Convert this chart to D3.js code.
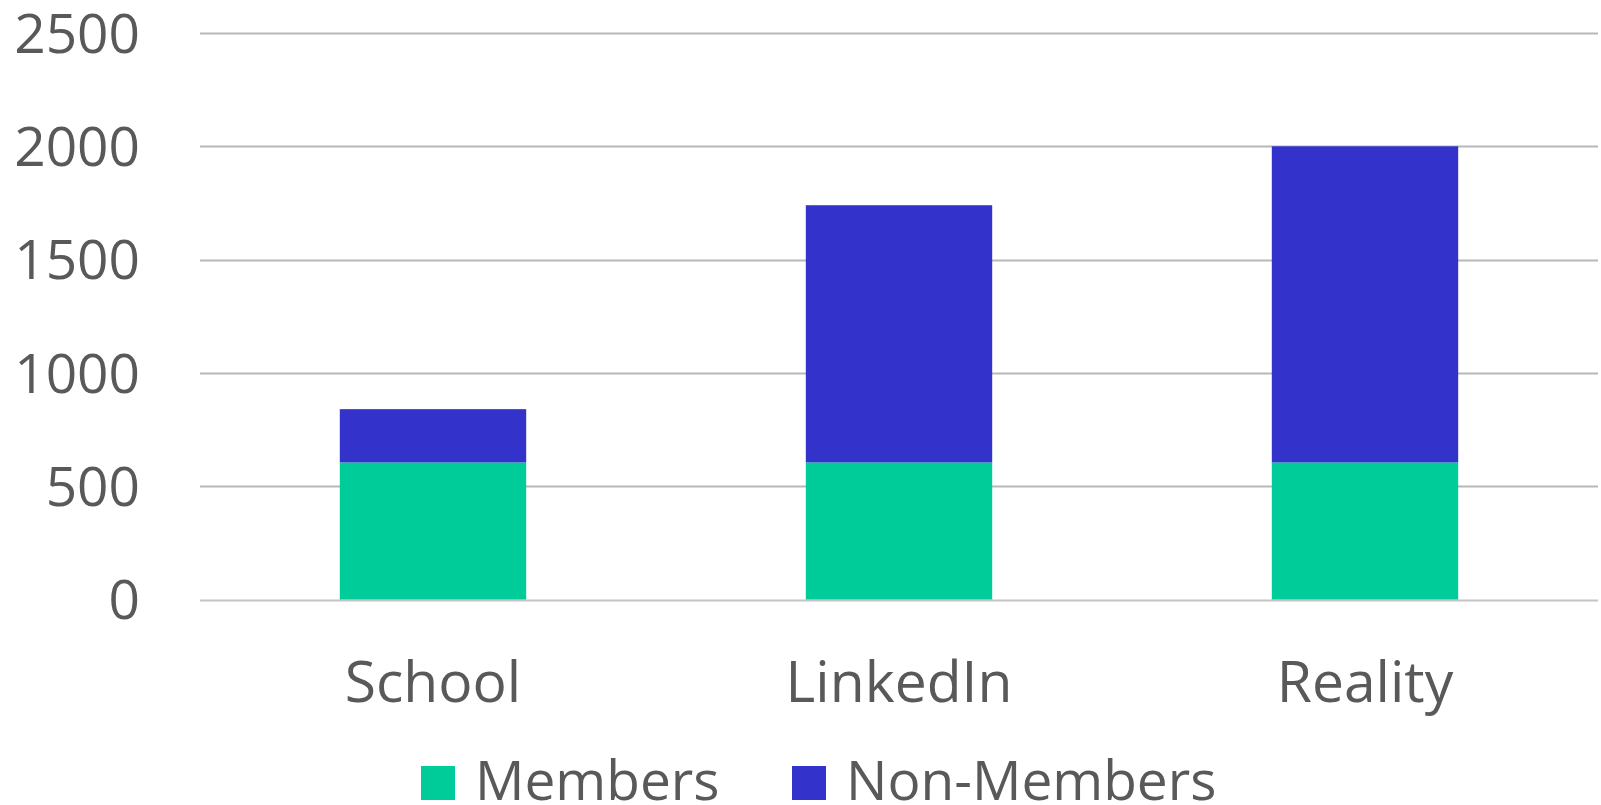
<!DOCTYPE html>
<html>
<head>
<meta charset="utf-8">
<script src="https://cdn.jsdelivr.net/npm/d3@7/dist/d3.min.js"></script>
<style>
    body { margin: 0; background: #fff; }
    svg text { font-family: "Open Sans", "Liberation Sans", sans-serif; fill: #595959; }
</style>
</head>
<body>
<div id="chart"></div>
<script>
(function(){
    'use strict';

    var categories = ['School', 'LinkedIn', 'Reality'];
    var members = [605, 605, 605];
    var nonMembers = [235, 1135, 1395];
    var yTicks = [0, 500, 1000, 1500, 2000, 2500];
    var seriesNames = ['Members', 'Non-Members'];
    var seriesColors = ['#00CC99', '#3333CC'];

    var width = 1601, height = 805;

    var svg = d3.select('#chart').append('svg')
        .attr('width', width)
        .attr('height', height);

    var x = d3.scaleBand()
        .domain(categories)
        .range([200, 1598])
        .paddingInner(0.6)
        .paddingOuter(0.3);

    var y = d3.scaleLinear()
        .domain([0, 2500])
        .range([599.5, 33]);

    // gridlines
    svg.append('g').selectAll('line')
        .data(yTicks).enter()
        .append('line')
        .attr('x1', 200)
        .attr('x2', 1598)
        .attr('y1', function(d){ return Math.round(y(d)) + 0.5; })
        .attr('y2', function(d){ return Math.round(y(d)) + 0.5; })
        .attr('stroke', function(d){ return d === 0 ? '#c4c4c4' : '#b8b8b8'; })
        .attr('stroke-width', 2);

    // y tick labels
    svg.append('g').selectAll('text')
        .data(yTicks).enter()
        .append('text')
        .attr('x', 140)
        .attr('y', function(d){ return y(d); })
        .attr('dy', '0.36em')
        .attr('text-anchor', 'end')
        .style('font-size', '55px')
        .text(function(d){ return d; });

    var rows = categories.map(function(c, i){
        return { cat: c, Members: members[i], 'Non-Members': nonMembers[i] };
    });
    var stacked = d3.stack().keys(seriesNames)(rows);

    svg.append('g').selectAll('g')
        .data(stacked).enter()
        .append('g')
        .attr('fill', function(d, i){ return seriesColors[i]; })
        .selectAll('rect')
        .data(function(d){ return d; }).enter()
        .append('rect')
        .attr('x', function(d){ return x(d.data.cat); })
        .attr('width', x.bandwidth())
        .attr('y', function(d){ return y(d[1]); })
        .attr('height', function(d){ return y(d[0]) - y(d[1]); });

    // category labels
    svg.append('g').selectAll('text')
        .data(categories).enter()
        .append('text')
        .attr('x', function(d){ return x(d) + x.bandwidth() / 2; })
        .attr('y', 702)
        .attr('text-anchor', 'middle')
        .style('font-size', '57px')
        .text(function(d){ return d; });

    // legend
    var legendX = [421, 792];
    var lg = svg.append('g').selectAll('g')
        .data(seriesNames).enter()
        .append('g')
        .attr('transform', function(d, i){ return 'translate(' + legendX[i] + ',0)'; });
    lg.append('rect')
        .attr('x', 0).attr('y', 766)
        .attr('width', 34).attr('height', 34)
        .attr('fill', function(d, i){ return seriesColors[i]; });
    lg.append('text')
        .attr('x', 54).attr('y', 800)
        .style('font-size', '55px')
        .text(function(d){ return d; });
}());
</script>
</body>
</html>
